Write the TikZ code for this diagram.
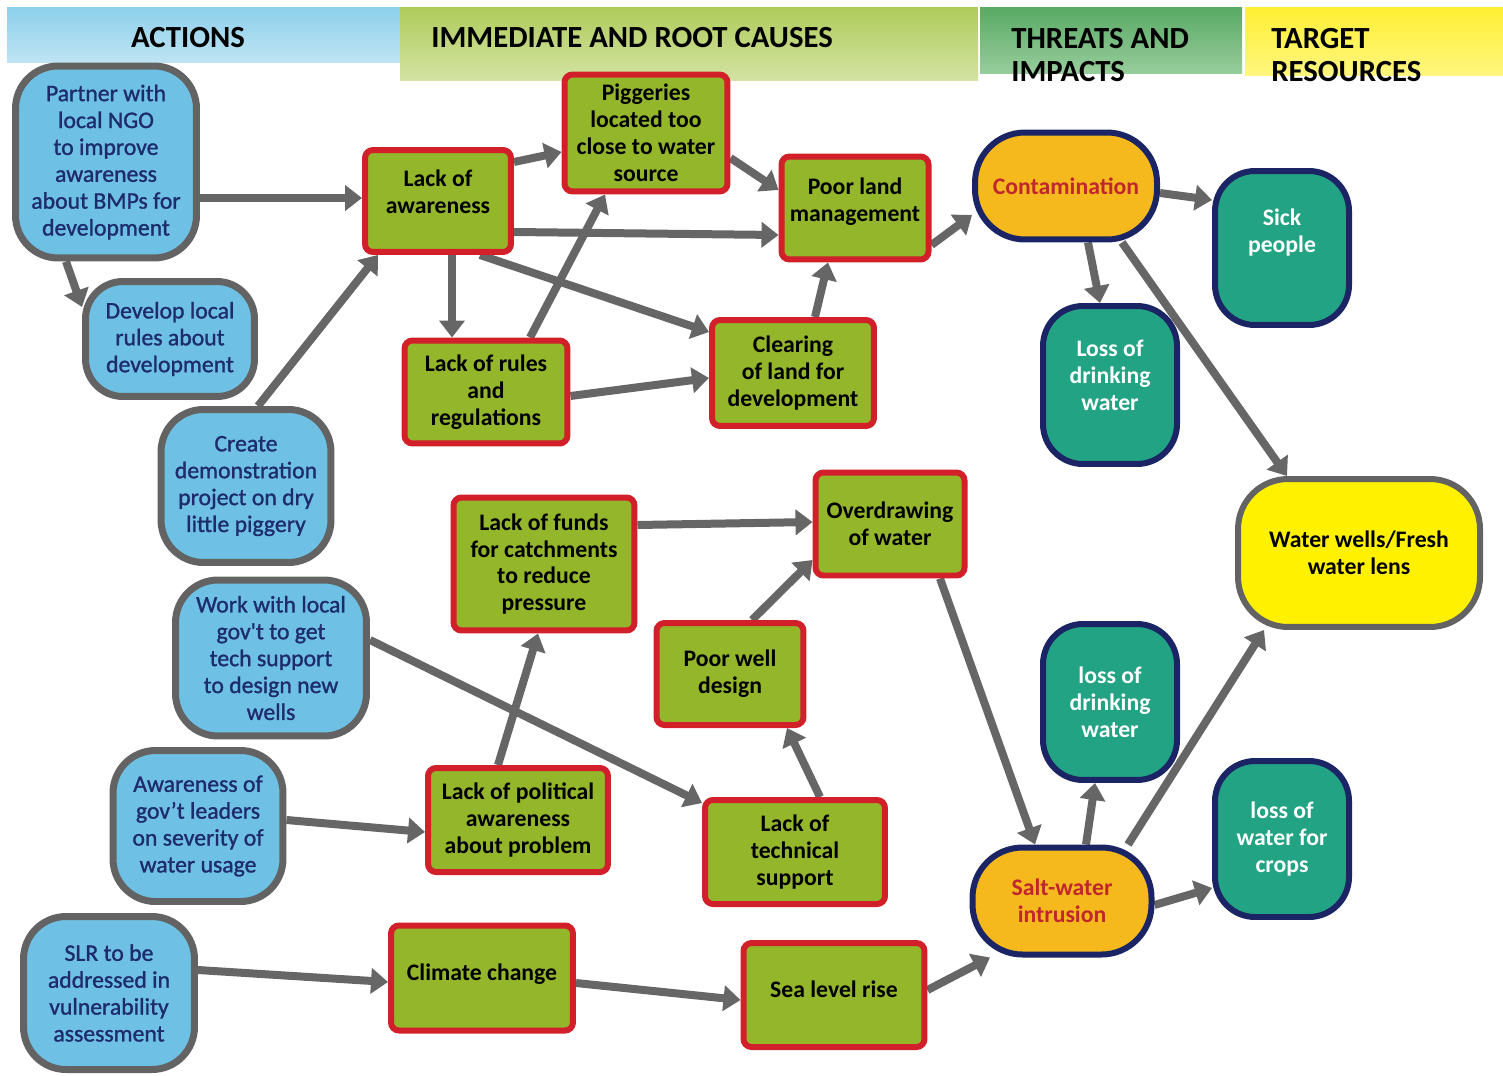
\documentclass[tikz,border=0pt]{standalone}
\usepackage{fontspec}
\setmainfont{Carlito}
\newfontfamily\medfont{Carlito}[FakeBold=1.2]
\usetikzlibrary{arrows.meta,backgrounds}
\definecolor{actfill}{HTML}{6EC1E4}
\definecolor{actdraw}{HTML}{636363}
\definecolor{acttext}{HTML}{1E2C6E}
\definecolor{causefill}{HTML}{94B62B}
\definecolor{causedraw}{HTML}{D2202A}
\definecolor{thrfill}{HTML}{F5B91E}
\definecolor{navy}{HTML}{1B2565}
\definecolor{thrtext}{HTML}{C0272D}
\definecolor{tgtfill}{HTML}{22A383}
\definecolor{wellfill}{HTML}{FFF100}
\definecolor{arrowgray}{HTML}{666666}
\definecolor{hAtop}{HTML}{8CCFEA}
\definecolor{hAbot}{HTML}{BFE4F4}
\definecolor{hBtop}{HTML}{AFCB5A}
\definecolor{hBbot}{HTML}{D3E3A3}
\definecolor{hCtop}{HTML}{58A964}
\definecolor{hCbot}{HTML}{98CD9C}
\definecolor{hDtop}{HTML}{FFEF33}
\definecolor{hDbot}{HTML}{FFF67E}
\tikzset{
  act/.style={draw=actdraw, fill=actfill, line width=0.14cm, rounded corners=0.85cm,
    text=acttext, align=center, inner sep=0pt, font=\medfont\fontsize{13.5}{15.3}\selectfont},
  cause/.style={draw=causedraw, fill=causefill, line width=0.12cm, rounded corners=0.16cm,
    text=black, align=center, inner sep=0pt, font=\fontsize{13.5}{15.3}\selectfont\bfseries},
  threat/.style={draw=navy, fill=thrfill, line width=0.12cm, rounded corners=1.0cm,
    text=thrtext, align=center, inner sep=0pt, font=\fontsize{13.5}{15.3}\selectfont\bfseries},
  target/.style={draw=navy, fill=tgtfill, line width=0.12cm, rounded corners=0.8cm,
    text=white, align=center, inner sep=0pt, font=\fontsize{13.5}{15.3}\selectfont\bfseries},
  resource/.style={draw=actdraw, fill=wellfill, line width=0.12cm, rounded corners=1.0cm,
    text=black, align=center, inner sep=0pt, font=\fontsize{13.5}{15.3}\selectfont\bfseries},
  hdr/.style={font=\fontsize{17.5}{19.3}\selectfont\bfseries, text=black, align=left, inner sep=0pt},
  link/.style={draw=arrowgray, line width=0.16cm, -{Triangle[length=0.34cm,width=0.5cm]}},
}
\begin{document}
\begin{tikzpicture}[x=0.02cm,y=-0.02cm]
\useasboundingbox (0,0) rectangle (1503,1075);
% header bands
\shade[top color=hAtop, bottom color=hAbot] (7,7) rectangle (400,62);
\shade[top color=hBtop, bottom color=hBbot] (400,7) rectangle (978,80);
\shade[top color=hCtop, bottom color=hCbot] (980,7) rectangle (1242,73);
\shade[top color=hDtop, bottom color=hDbot] (1245,7) rectangle (1503,75);
\node[hdr, anchor=center] (hA) at (188,38) {ACTIONS};
\node[hdr, anchor=west] (hB) at (431,38) {IMMEDIATE AND ROOT CAUSES};
\node[hdr, anchor=west] (hC) at (1011,55) {THREATS AND\\IMPACTS};
\node[hdr, anchor=west] (hD) at (1271,55) {TARGET\\RESOURCES};

% actions
\node[act, minimum width=3.62cm, minimum height=3.84cm] (partner) at (106,162)
  {Partner with\\local NGO\\to improve\\awareness\\about BMPs for\\development};
\node[act, minimum width=3.38cm, minimum height=2.30cm, rounded corners=0.75cm] (develop) at (170,339)
  {Develop local\\rules about\\development};
\node[act, minimum width=3.40cm, minimum height=3.06cm] (create) at (246,486)
  {Create\\demonstration\\project on dry\\little piggery};
\node[act, minimum width=3.82cm, minimum height=3.12cm] (work) at (271,658)
  {Work with local\\gov't to get\\tech support\\to design new\\wells};
\node[act, minimum width=3.40cm, minimum height=3.02cm] (aware) at (198,826)
  {Awareness of\\gov’t leaders\\on severity of\\water usage};
\node[act, minimum width=3.42cm, minimum height=3.06cm] (slr) at (109,993)
  {SLR to be\\addressed in\\vulnerability\\assessment};

% causes
\node[cause, minimum width=2.92cm, minimum height=2.04cm] (lackaw) at (438,201)
  {Lack of\\awareness\\[-5pt]\mbox{}};
\node[cause, minimum width=3.26cm, minimum height=2.34cm] (pig) at (646,133)
  {Piggeries\\located too\\close to water\\source};
\node[cause, minimum width=2.94cm, minimum height=2.06cm] (poor) at (855,208)
  {Poor land\\management\\[-6pt]\mbox{}};
\node[cause, minimum width=3.26cm, minimum height=2.06cm] (rules) at (486,392)
  {Lack of rules\\and\\regulations};
\node[cause, minimum width=3.24cm, minimum height=2.12cm] (clear) at (793,373)
  {Clearing\\of land for\\development};
\node[cause, minimum width=3.62cm, minimum height=2.66cm] (funds) at (544,564)
  {Lack of funds\\for catchments\\to reduce\\pressure};
\node[cause, minimum width=2.98cm, minimum height=2.06cm] (over) at (890,524)
  {Overdrawing\\of water};
\node[cause, minimum width=2.94cm, minimum height=2.04cm] (well) at (730,674)
  {Poor well\\design};
\node[cause, minimum width=3.60cm, minimum height=2.08cm] (pol) at (518,820)
  {Lack of political\\awareness\\about problem};
\node[cause, minimum width=3.60cm, minimum height=2.08cm] (tech) at (795,852)
  {Lack of\\technical\\support};
\node[cause, minimum width=3.64cm, minimum height=2.10cm] (climate) at (482,978)
  {Climate change\\[-8.5pt]\mbox{}};
\node[cause, minimum width=3.62cm, minimum height=2.08cm] (sea) at (834,995)
  {Sea level rise\\[-8.5pt]\mbox{}};

% threats
\node[threat, minimum width=3.64cm, minimum height=2.14cm] (contam) at (1066,186)
  {Contamination};
\node[threat, minimum width=3.58cm, minimum height=2.14cm] (salt) at (1062,901)
  {Salt-water\\intrusion};

% targets
\node[target, minimum width=2.68cm, minimum height=3.08cm] (sick) at (1282,248)
  {Sick\\people\\[4pt]\mbox{}};
\node[target, minimum width=2.68cm, minimum height=3.16cm] (loss1) at (1110,385)
  {Loss of\\drinking\\water\\[-4pt]\mbox{}};
\node[target, minimum width=2.68cm, minimum height=3.12cm] (loss2) at (1110,702)
  {loss of\\drinking\\water};
\node[target, minimum width=2.68cm, minimum height=3.12cm] (crops) at (1282,839)
  {loss of\\water for\\crops};
\node[resource, minimum width=4.84cm, minimum height=2.96cm] (wells) at (1359,553)
  {Water wells/Fresh\\water lens};

% connectors
\begin{pgfonlayer}{background}
\draw[link] (partner.east |- 0,198) -- (lackaw.west |- 0,198);
\draw[link] (partner.south -| 66,0) -- (develop.160);
\draw[link] (create.north -| 258,0) -- (lackaw.south -| 378,0);
\draw[link] (lackaw.east |- 0,162) -- (pig.west |- 0,152);
\draw[link] (lackaw.east |- 0,232) -- (poor.west |- 0,235);
\draw[link] (lackaw.south -| 452,0) -- (rules.north -| 452,0);
\draw[link] (lackaw.south -| 480,0) -- (clear.west |- 0,332);
\draw[link] (rules.north -| 530,0) -- (pig.south -| 605,0);
\draw[link] (rules.east |- 0,396) -- (clear.west |- 0,378);
\draw[link] (pig.east |- 0,158) -- (poor.west |- 0,190);
\draw[link] (clear.north -| 815,0) -- (poor.south -| 828,0);
\draw[link] (poor.east |- 0,245) -- (contam.west |- 0,215);
\draw[link] (contam.east |- 0,193) -- (sick.west |- 0,200);
\draw[link] (contam.south -| 1088,0) -- (loss1.north -| 1100,0);
\draw[link] (contam.south -| 1122,0) -- (wells.north -| 1287,0);
\draw[link] (work.east |- 0,640) -- (tech.west |- 0,803);
\draw[link] (pol.north -| 498,0) -- (funds.south -| 538,0);
\draw[link] (funds.east |- 0,525) -- (over.west |- 0,522);
\draw[link] (well.north -| 752,0) -- (over.west |- 0,560);
\draw[link] (tech.north -| 820,0) -- (well.south -| 787,0);
\draw[link] (aware.east |- 0,820) -- (pol.west |- 0,832);
\draw[link] (over.south -| 940,0) -- (salt.north -| 1035,0);
\draw[link] (salt.north -| 1086,0) -- (loss2.south -| 1095,0);
\draw[link] (salt.north -| 1128,0) -- (wells.south -| 1264,0);
\draw[link] (salt.east |- 0,905) -- (crops.west |- 0,888);
\draw[link] (slr.east |- 0,970) -- (climate.west |- 0,982);
\draw[link] (climate.east |- 0,983) -- (sea.west |- 0,1000);
\draw[link] (sea.east |- 0,990) -- (salt.south -| 990,0);
\end{pgfonlayer}
\end{tikzpicture}
\end{document}
